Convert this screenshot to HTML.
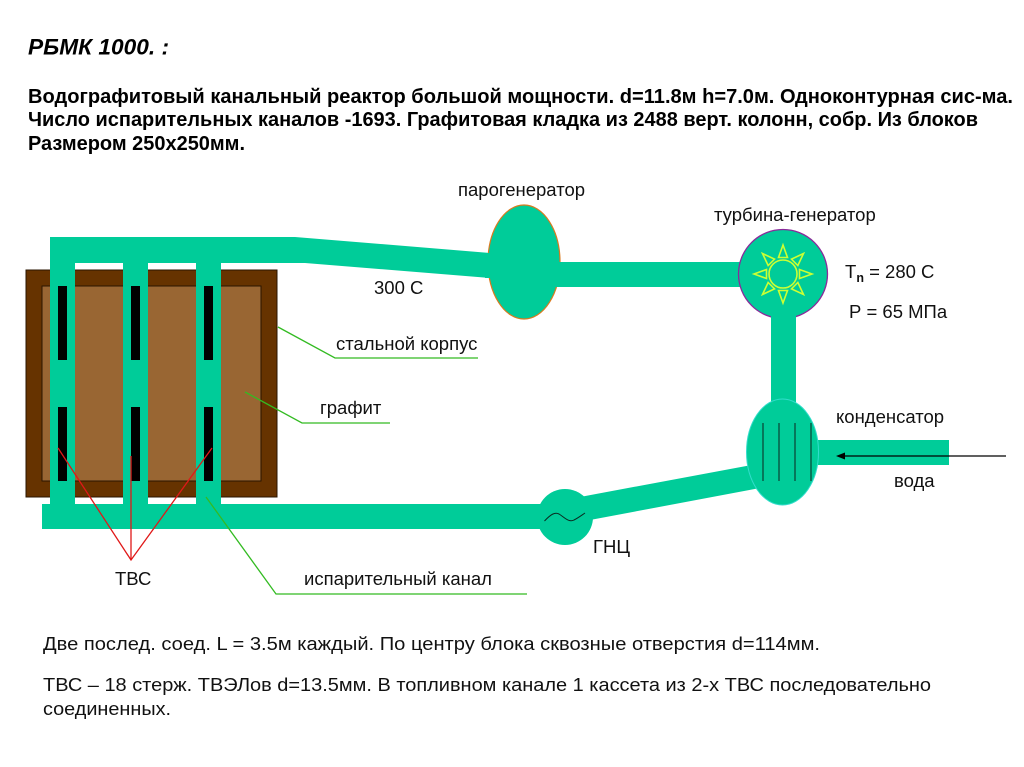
<!DOCTYPE html>
<html><head><meta charset="utf-8"><style>
html,body{margin:0;padding:0;background:#fff;width:1024px;height:767px;overflow:hidden}
svg{display:block}
text{font-family:"Liberation Sans",sans-serif;fill:#111}
.l{font-size:18.5px}
.t{font-size:18.7px}
.b{font-size:20px;font-weight:bold;fill:#000}
</style></head><body>
<svg width="1024" height="767" viewBox="0 0 1024 767" xmlns="http://www.w3.org/2000/svg">
<rect width="1024" height="767" fill="#fff"/>
<text x="28" y="54.5" font-size="22.5" font-weight="bold" font-style="italic" style="fill:#000" textLength="141" lengthAdjust="spacingAndGlyphs">РБМК 1000. :</text>
<text class="b" x="28" y="103" textLength="985" lengthAdjust="spacingAndGlyphs">Водографитовый канальный реактор большой мощности. d=11.8м  h=7.0м. Одноконтурная сис-ма.</text>
<text class="b" x="28" y="126" textLength="950" lengthAdjust="spacingAndGlyphs">Число испарительных каналов -1693. Графитовая кладка из 2488 верт. колонн, собр. Из блоков</text>
<text class="b" x="28" y="150" textLength="217" lengthAdjust="spacingAndGlyphs">Размером 250х250мм.</text>

<rect x="26" y="270" width="251" height="227" fill="#663300" stroke="#2a1500" stroke-width="1"/>
<rect x="42" y="286" width="219" height="195" fill="#996633" stroke="#2a1500" stroke-width="1"/>

<g fill="#00cc99">
<polygon points="50,237 295,237 490,253 490,278 305,263 50,263"/>
<rect x="50" y="237" width="25" height="280"/>
<rect x="123" y="237" width="25" height="280"/>
<rect x="196" y="237" width="25" height="280"/>
<rect x="42" y="504" width="505" height="25"/>
<rect x="550" y="262" width="195" height="25"/>
<rect x="771" y="310" width="25" height="95"/>
<rect x="810" y="440" width="139" height="25"/>
<polygon points="580,497 757,464 760,488 590,520"/>
</g>

<g fill="#000">
<rect x="58" y="286" width="9" height="74"/>
<rect x="131" y="286" width="9" height="74"/>
<rect x="204" y="286" width="9" height="74"/>
<rect x="58" y="407" width="9" height="74"/>
<rect x="131" y="407" width="9" height="74"/>
<rect x="204" y="407" width="9" height="74"/>
</g>

<ellipse cx="524" cy="262" rx="36" ry="57" fill="#00cc99" stroke="#d97a1e" stroke-width="1.2"/>
<rect x="550" y="262" width="20" height="25" fill="#00cc99"/>
<rect x="485" y="253" width="15" height="25" fill="#00cc99"/>
<circle cx="783" cy="274" r="44.5" fill="#00cc99" stroke="#8a2a9a" stroke-width="1.3"/>
<rect x="771" y="300" width="25" height="30" fill="#00cc99"/>

<g fill="none" stroke="#ccff33" stroke-width="1.6">
<circle cx="783" cy="274" r="14"/>
<polygon points="783,245 778.5,257.5 787.5,257.5"/>
<polygon points="783,245 778.5,257.5 787.5,257.5" transform="rotate(45 783 274)"/>
<polygon points="783,245 778.5,257.5 787.5,257.5" transform="rotate(90 783 274)"/>
<polygon points="783,245 778.5,257.5 787.5,257.5" transform="rotate(135 783 274)"/>
<polygon points="783,245 778.5,257.5 787.5,257.5" transform="rotate(180 783 274)"/>
<polygon points="783,245 778.5,257.5 787.5,257.5" transform="rotate(225 783 274)"/>
<polygon points="783,245 778.5,257.5 787.5,257.5" transform="rotate(270 783 274)"/>
<polygon points="783,245 778.5,257.5 787.5,257.5" transform="rotate(315 783 274)"/>
</g>

<ellipse cx="782.5" cy="452" rx="36" ry="53" fill="#00cc99" stroke="#33ddcc" stroke-width="1"/>
<g stroke="#0a4a3a" stroke-width="1.3">
<line x1="763" y1="423" x2="763" y2="481"/>
<line x1="779" y1="423" x2="779" y2="481"/>
<line x1="795" y1="423" x2="795" y2="481"/>
<line x1="811" y1="423" x2="811" y2="481"/>
</g>
<line x1="1006" y1="456" x2="842" y2="456" stroke="#000" stroke-width="1.3"/>
<polygon points="836,456 845,452.5 845,459.5" fill="#000"/>

<circle cx="565" cy="517" r="28" fill="#00cc99"/>
<path d="M544.5 521 C551 514 555 512 559 514 C564 517 569 523 574 520 C578 518 582 515 585 513" fill="none" stroke="#0a2a20" stroke-width="1"/>

<g fill="none" stroke="#33bb22" stroke-width="1.3">
<polyline points="278,327 335,358 478,358"/>
<polyline points="245,392 302,423 390,423"/>
<polyline points="206,497 276,594 527,594"/>
</g>
<g stroke="#e01818" stroke-width="1.3" fill="none">
<polyline points="58,448 131,560 212,448"/>
<line x1="131" y1="456" x2="131" y2="560"/>
</g>

<text class="l" x="458" y="196">парогенератор</text>
<text class="l" x="714" y="221">турбина-генератор</text>
<text class="l" x="374" y="294">300 С</text>
<text class="l" x="845" y="278">T<tspan font-size="12.5" font-weight="bold" dy="4">n</tspan><tspan dy="-4"> = 280 С</tspan></text>
<text class="l" x="849" y="318">Р = 65 МПа</text>
<text class="l" x="336" y="350">стальной корпус</text>
<text class="l" x="320" y="414">графит</text>
<text class="l" x="836" y="423">конденсатор</text>
<text class="l" x="894" y="487">вода</text>
<text class="l" x="593" y="553">ГНЦ</text>
<text class="l" x="115" y="585">ТВС</text>
<text class="l" x="304" y="585">испарительный канал</text>
<text class="t" x="43" y="650" textLength="777" lengthAdjust="spacingAndGlyphs">Две послед. соед. L = 3.5м каждый. По центру блока  сквозные отверстия d=114мм.</text>
<text class="t" x="43" y="691" textLength="888" lengthAdjust="spacingAndGlyphs">ТВС – 18 стерж. ТВЭЛов d=13.5мм. В топливном канале 1 кассета из 2-х ТВС последовательно</text>
<text class="t" x="43" y="715" textLength="128" lengthAdjust="spacingAndGlyphs">соединенных.</text>
</svg>
</body></html>
